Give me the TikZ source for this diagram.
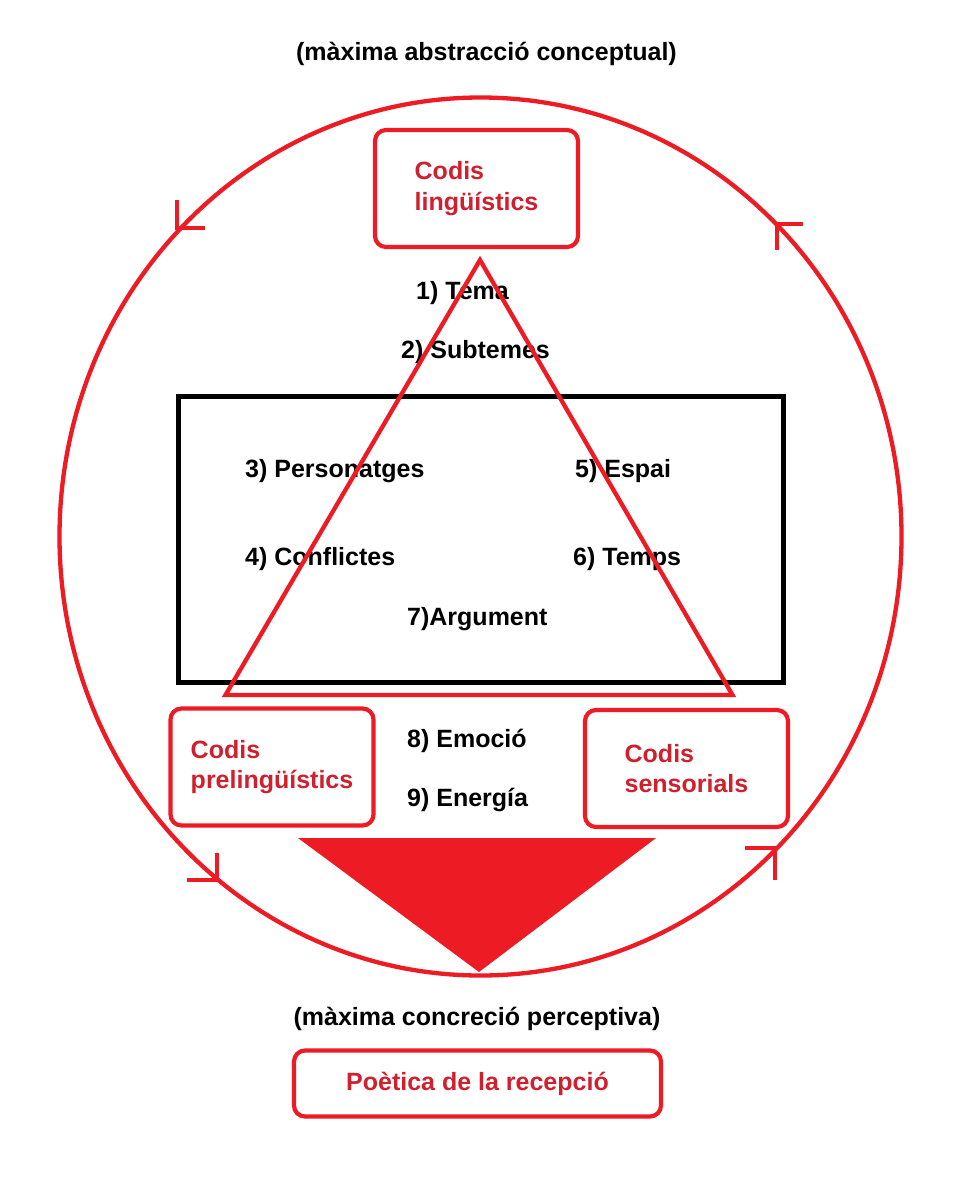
\documentclass[tikz,border=0pt]{standalone}
\usepackage{fontspec}
\setmainfont{Liberation Sans}
\definecolor{pred}{HTML}{ED1C24}
\definecolor{tred}{HTML}{D0202E}
\begin{document}
\begin{tikzpicture}[x=1pt,y=-1pt,
  lbl/.style={anchor=base west,inner sep=0pt,font=\fontsize{25}{30}\selectfont\bfseries,text=black},
  ttl/.style={anchor=base,inner sep=0pt,font=\fontsize{25}{30}\selectfont\bfseries,text=black},
  redbox/.style={draw=pred,line width=4.2pt,rounded corners=11pt,align=left,
    font=\fontsize{25}{30.5}\selectfont\bfseries,text=tred,inner sep=0pt},
  redline/.style={draw=pred,line width=4.3pt},
  tick/.style={draw=pred,line width=3.8pt}]
\path[use as bounding box,fill=white] (0,0) rectangle (960,1181);

% outer ellipse
\draw[redline] (480.5,536.5) ellipse [x radius=421pt, y radius=439pt];

% direction ticks
\coordinate (tl) at (177,228);
\draw[tick] (177,200) -- (tl) -- (205,228);
\coordinate (tr) at (777,224);
\draw[tick] (803,224) -- (tr) -- (777,250);
\coordinate (bl) at (217,880);
\draw[tick] (187,880) -- (bl) -- (217,853);
\coordinate (br) at (775,848);
\draw[tick] (745,848) -- (br) -- (775,880);

% black rectangle
\draw[black,line width=5pt] (178.5,396.5) rectangle (783.5,682.5);

% red boxes
\node[redbox,minimum width=203pt,minimum height=117pt] (ling) at (476.5,188.5) {Codis\\lingüístics};
\node[redbox,minimum width=203pt,minimum height=117pt] (prel) at (272,767) {Codis\\prelingüístics};
\node[redbox,minimum width=203pt,minimum height=117pt] (sens) at (686.5,768.5) {Codis\\sensorials};
\node[redbox,align=center,minimum width=367pt,minimum height=66pt] (poet) at (477.5,1083.5) {Poètica de la recepció};

% titles
\node[ttl] (top) at (486.5,60) {(màxima abstracció conceptual)};
\node[ttl] (bot) at (477,1025) {(màxima concreció perceptiva)};

% labels
\node[lbl] (l1) at (416,299) {1) Tema};
\node[lbl] (l2) at (401,358) {2) Subtemes};
\node[lbl] (l3) at (245,477) {3) Personatges};
\node[lbl] (l5) at (575,477) {5) Espai};
\node[lbl] (l4) at (245,565) {4) Conflictes};
\node[lbl] (l6) at (573,565) {6) Temps};
\node[lbl] (l7) at (407,625) {7)Argument};
\node[lbl] (l8) at (407,747) {8) Emoció};
\node[lbl] (l9) at (407,806) {9) Energía};

% big triangle outline
\draw[redline,line join=miter] (480,260) -- (225.5,695) -- (732.5,695) -- cycle;

% filled triangle
\fill[pred] (298,838) -- (656,838) -- (479,972) -- cycle;
\end{tikzpicture}
\end{document}
